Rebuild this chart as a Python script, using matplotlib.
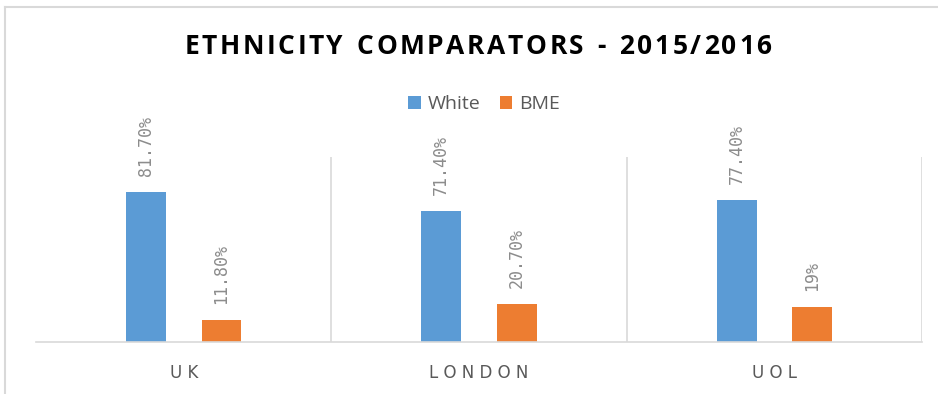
import matplotlib.pyplot as plt
import numpy as np
from matplotlib.lines import Line2D

categories = ["UK", "LONDON", "UOL"]
white = [81.7, 71.4, 77.4]
bme = [11.8, 20.7, 19.0]
white_labels = ["81.70%", "71.40%", "77.40%"]
bme_labels = ["11.80%", "20.70%", "19%"]

blue = "#5B9BD5"
orange = "#ED7D31"
grid_c = "#D9D9D9"
label_c = "#8C8C8C"

W, H = 938, 394
fig = plt.figure(figsize=(W / 100, H / 100), dpi=100)
ax = fig.add_axes([0.0384, 0.132, 0.9446, 0.4695])


def spaced_text(fig, cx, cy, s, span, **kw):
    # draw a string letter by letter, spread to a given pixel width
    r = fig.canvas.get_renderer()
    widths = []
    for ch in s:
        t = fig.text(0, 0, ch if ch != " " else "n", **kw)
        wd = t.get_window_extent(r).width
        t.remove()
        widths.append(wd * 0.5 if ch == " " else wd)
    gap = (span - sum(widths)) / (len(s) - 1)
    xp = cx - span / 2
    for ch, wd in zip(s, widths):
        if ch != " ":
            fig.text(xp / W, cy, ch, ha="left", va="center", **kw)
        xp += wd + gap


x = np.arange(len(categories))
w = 0.135
off = 0.128
b1 = ax.bar(x - off, white, w, color=blue, label="White")
b2 = ax.bar(x + off, bme, w, color=orange, label="BME")

for bars, labels in ((b1, white_labels), (b2, bme_labels)):
    for rect, txt in zip(bars, labels):
        ax.annotate(txt, (rect.get_x() + rect.get_width() / 2, rect.get_height()),
                    xytext=(0, 11.5), textcoords="offset points",
                    rotation=90, ha="center", va="bottom",
                    fontsize=12, color=label_c, family="DejaVu Sans Mono")

ax.set_xlim(-0.5, 2.5)
ax.set_ylim(0, 100.7)
for s in ["left", "top", "right"]:
    ax.spines[s].set_visible(False)
ax.spines["bottom"].set_color(grid_c)
ax.spines["bottom"].set_linewidth(1.2)
for xv in [0.5, 1.5, 2.5]:
    ax.axvline(xv, color=grid_c, lw=1.2, zorder=0)
ax.set_yticks([])
ax.set_xticks(x)
ax.set_xticklabels([" ".join(c) for c in categories], fontsize=12, color="#595959")
ax.tick_params(axis="x", length=0, pad=16)

spaced_text(fig, 478, 0.881, "ETHNICITY COMPARATORS - 2015/2016", 587,
            fontsize=19, fontweight="bold", color="black", family="Open Sans")

fig.legend(handles=[b1, b2], loc="center", bbox_to_anchor=(0.516, 0.736), ncol=2,
           frameon=False, handlelength=0.65, handleheight=0.65,
           handletextpad=0.35, columnspacing=1.0, labelcolor="#595959",
           prop={"family": "Open Sans", "size": 14})

# thin outline of the chart area (top and left edges)
fig.add_artist(Line2D([5 / W, 1.0], [1 - 7 / H, 1 - 7 / H], transform=fig.transFigure,
                      color=grid_c, lw=1.5))
fig.add_artist(Line2D([5 / W, 5 / W], [0.0, 1 - 7 / H], transform=fig.transFigure,
                      color=grid_c, lw=1.5))

fig.savefig("out.png", dpi=100)
